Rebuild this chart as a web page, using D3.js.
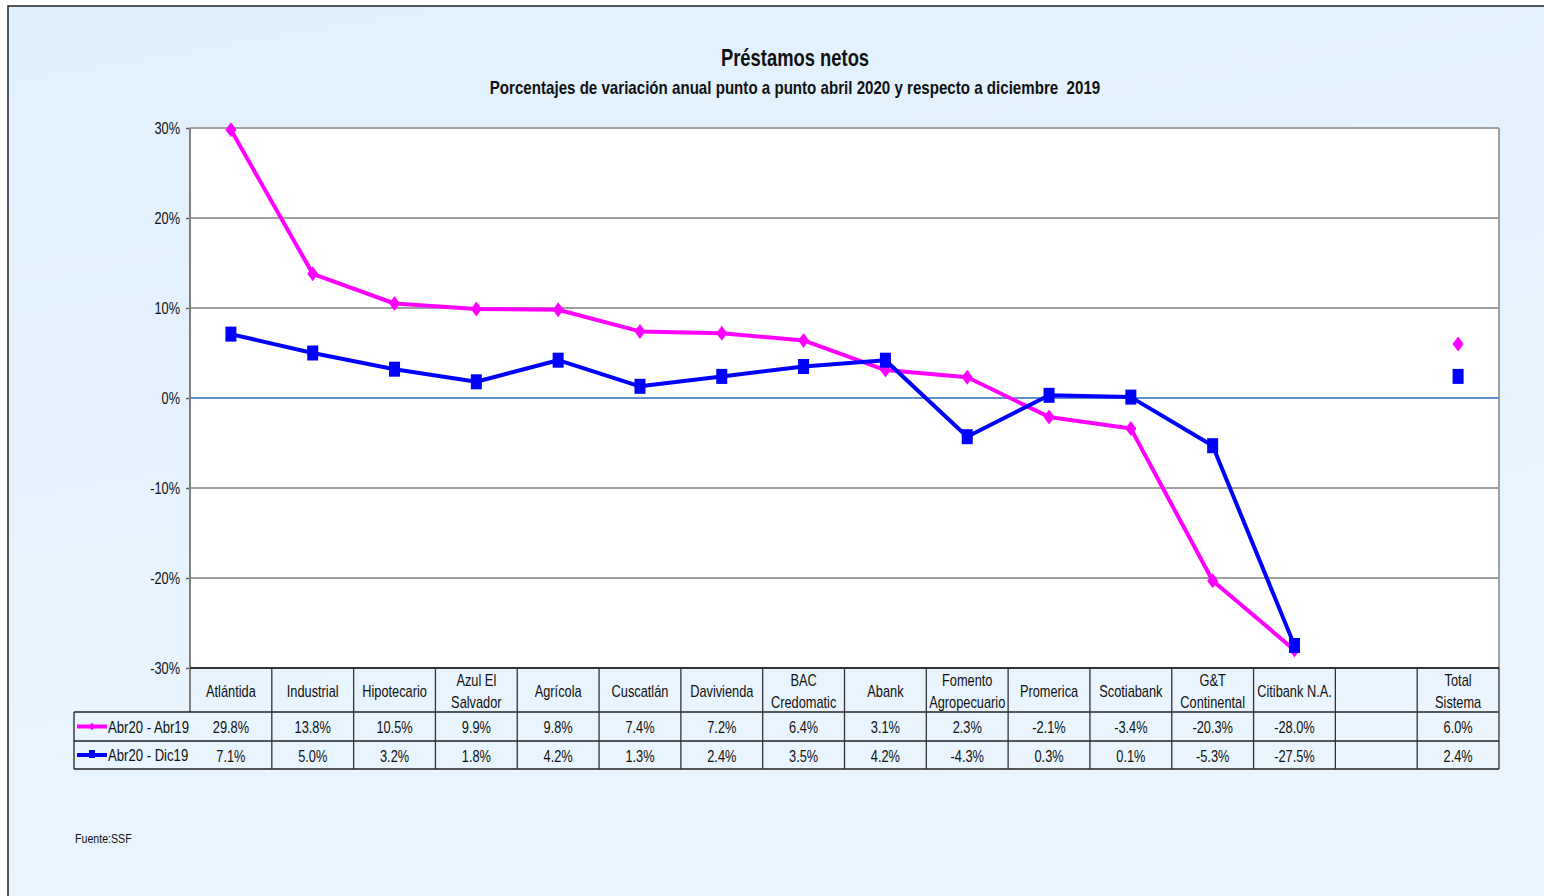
<!DOCTYPE html>
<html><head><meta charset="utf-8">
<script src="https://cdn.jsdelivr.net/npm/d3@7"></script>
<style>
html,body{margin:0;padding:0;background:#fff;}
svg text{font-family:"Liberation Sans","Arial",sans-serif;fill:#111;white-space:pre;}
</style></head>
<body><svg id="c" width="1544" height="896"></svg>
<script>
const categories = ["Atlántida","Industrial","Hipotecario","Azul El\nSalvador","Agrícola","Cuscatlán","Davivienda","BAC\nCredomatic","Abank","Fomento\nAgropecuario","Promerica","Scotiabank","G&T\nContinental","Citibank N.A.","","Total\nSistema"];
const abr19 = [29.8,13.8,10.5,9.9,9.8,7.4,7.2,6.4,3.1,2.3,-2.1,-3.4,-20.3,-28.0,null,6.0];
const dic19 = [7.1,5.0,3.2,1.8,4.2,1.3,2.4,3.5,4.2,-4.3,0.3,0.1,-5.3,-27.5,null,2.4];
const seriesNames = ["Abr20 - Abr19","Abr20 - Dic19"];
const yTicks = [30,20,10,0,-10,-20,-30];
const title = "Préstamos netos";
const subtitle = "Porcentajes de variación anual punto a punto abril 2020 y respecto a diciembre  2019";
const source = "Fuente:SSF";

const svg = d3.select("#c");
const defs = svg.append("defs");
const g1 = defs.append("linearGradient").attr("id","bg").attr("x1","0").attr("y1","0").attr("x2","0.3").attr("y2","1");
g1.append("stop").attr("offset","0").attr("stop-color","#e1f0fd");
g1.append("stop").attr("offset","1").attr("stop-color","#eaf5fe");
svg.append("rect").attr("x",8).attr("y",6).attr("width",1560).attr("height",900).attr("fill","url(#bg)").attr("stroke","#222").attr("stroke-width",1.5);

function ctext(parent, x, y, str, size, sx, anchor, weight){
  const g = parent.append("g").attr("transform",`translate(${x},${y}) scale(${sx},1)`);
  return g.append("text").attr("x",0).attr("y",0).attr("text-anchor",anchor||"middle")
    .attr("font-size",size).attr("font-weight",weight||"normal").attr("xml:space","preserve").text(str);
}

const L=190, R=1499, T=128, B=668;
const x = d3.scaleBand().domain(d3.range(categories.length)).range([L,R]).padding(0);
const y = d3.scaleLinear().domain([-30,30]).range([B,T]);
const cx = i => x(i)+x.bandwidth()/2;

svg.append("rect").attr("x",L).attr("y",T).attr("width",R-L).attr("height",B-T).attr("fill","#fff");
svg.append("g").selectAll("line").data(yTicks.filter(t=>t!==0 && t!==-30)).join("line")
  .attr("x1",L).attr("x2",R).attr("y1",d=>y(d)).attr("y2",d=>y(d)).attr("stroke","#a0a0a0").attr("stroke-width",2);
svg.append("line").attr("x1",R).attr("x2",R).attr("y1",T).attr("y2",B).attr("stroke","#a0a0a0").attr("stroke-width",2);
svg.append("line").attr("x1",L).attr("x2",R).attr("y1",y(0)).attr("y2",y(0)).attr("stroke","#5f8fcf").attr("stroke-width",2);

const yAxis = d3.axisLeft(y).tickValues(yTicks).tickFormat(d=>d+"%").tickSize(4).tickPadding(5);
const ya = svg.append("g").attr("transform",`translate(${L},0)`).call(yAxis);
ya.select(".domain").remove();
ya.selectAll(".tick line").attr("stroke","#606060").attr("stroke-width",1.5);
ya.selectAll(".tick text").attr("font-size",16).attr("fill","#111").attr("font-family",null)
  .attr("x",-10/0.8).attr("transform","scale(0.8,1)");
svg.append("line").attr("x1",L).attr("x2",L).attr("y1",T).attr("y2",712).attr("stroke","#808080").attr("stroke-width",2);

const tbl = svg.append("g");
tbl.append("line").attr("x1",L).attr("x2",R).attr("y1",B).attr("y2",B).attr("stroke","#333").attr("stroke-width",2);
[712,741,769].forEach(yy=>tbl.append("line").attr("x1",74).attr("x2",R).attr("y1",yy).attr("y2",yy).attr("stroke","#222").attr("stroke-width",1.3));
tbl.append("line").attr("x1",74).attr("x2",74).attr("y1",712).attr("y2",769).attr("stroke","#222").attr("stroke-width",1.3);
d3.range(1,categories.length+1).forEach(i=>{
  const xx = i<categories.length ? x(i) : R;
  tbl.append("line").attr("x1",xx).attr("x2",xx).attr("y1",B).attr("y2",769).attr("stroke","#333").attr("stroke-width",1.3);
});
const SX = 0.8;
categories.forEach((c,i)=>{
  const lines = c.split("\n");
  if(lines.length===1){ ctext(tbl,cx(i),697,lines[0],16,SX); }
  else { ctext(tbl,cx(i),686,lines[0],16,SX); ctext(tbl,cx(i),708,lines[1],16,SX); }
});
const fmt = v => v==null ? "" : v.toFixed(1)+"%";
[abr19,dic19].forEach((s,k)=>{
  const yy = k===0?733:762;
  s.forEach((v,i)=>{ if(v!=null) ctext(tbl,cx(i),yy,fmt(v),16,SX); });
});

const colors=["#ff00ff","#0000ff"];
seriesNames.forEach((n,k)=>{
  const yy = k===0?726.5:755;
  tbl.append("line").attr("x1",77).attr("x2",107).attr("y1",yy).attr("y2",yy).attr("stroke",colors[k]).attr("stroke-width",4);
  if(k===0) tbl.append("path").attr("d",`M92,${yy-4}L95,${yy}L92,${yy+4}L89,${yy}Z`).attr("fill",colors[k]);
  else tbl.append("rect").attr("x",89).attr("y",yy-5).attr("width",6).attr("height",8).attr("fill",colors[k]);
  ctext(tbl,108,yy+6,n,16,0.82,"start");
});

const line = d3.line().defined(d=>d.v!=null && d.i<14).x(d=>cx(d.i)).y(d=>y(d.v));
[abr19,dic19].forEach((s,k)=>{
  const data = s.map((v,i)=>({v,i}));
  const g = svg.append("g");
  g.append("path").datum(data).attr("d",line).attr("fill","none").attr("stroke",colors[k]).attr("stroke-width",4).attr("stroke-linejoin","round");
  const pts = data.filter(d=>d.v!=null);
  if(k===0){
    g.selectAll("path.m").data(pts).join("path").attr("class","m")
      .attr("d",d=>{const X=cx(d.i),Y=y(d.v);return `M${X},${Y-7.5}L${X+5.5},${Y}L${X},${Y+7.5}L${X-5.5},${Y}Z`;})
      .attr("fill",colors[k]);
  } else {
    g.selectAll("rect").data(pts).join("rect")
      .attr("x",d=>cx(d.i)-5.5).attr("y",d=>y(d.v)-7.5).attr("width",11).attr("height",15).attr("fill",colors[k]);
  }
});

ctext(svg,795,66,title,23,0.8,"middle","bold");
ctext(svg,795,94,subtitle,18,0.84,"middle","bold");
ctext(svg,75,843,source,12.5,0.85,"start");
</script></body></html>
